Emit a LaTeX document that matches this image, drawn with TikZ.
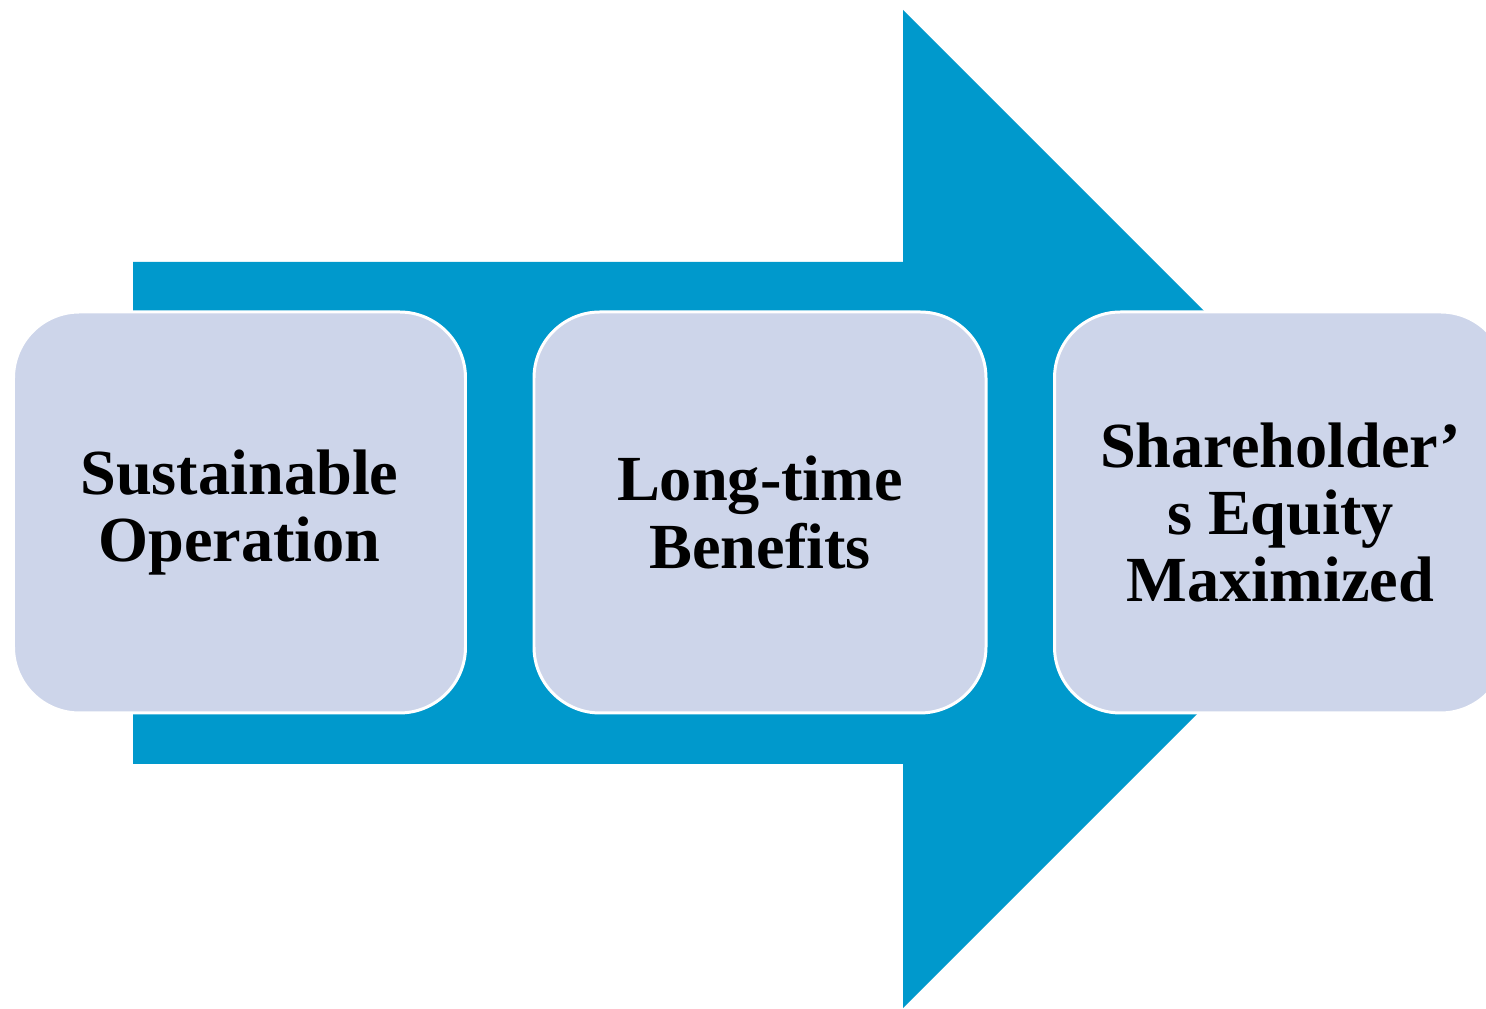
\documentclass[tikz,border=0pt]{standalone}
\usepackage{fontspec}
\setmainfont{Liberation Serif}
\usetikzlibrary{positioning}
\definecolor{arrowblue}{RGB}{0,153,204}
\definecolor{boxfill}{RGB}{205,213,234}
\tikzset{stepbox/.style={draw=white,line width=1.7pt,fill=boxfill,rounded corners=1.32cm,minimum width=9.04cm,minimum height=8.02cm,outer sep=0pt,align=center,font=\fontsize{36.6}{38.2}\selectfont\bfseries}}

\begin{document}
\begin{tikzpicture}
    \clip (0,0) rectangle (29.72,20.18);
    \fill[white] (0,0) rectangle (29.72,20.18);
    \fill[arrowblue] (2.66,4.90) -- (18.06,4.90) -- (18.06,0.02) -- (28.04,10.0) -- (18.06,19.98) -- (18.06,14.94) -- (2.66,14.94) -- cycle;
    \node[stepbox] (oper) at (4.79,9.93) {Sustainable\\Operation};
    \node[stepbox,right=1.37cm of oper] (bene) {Long-time\\Benefits};
    \node[stepbox,right=1.37cm of bene] (equity) {Shareholder’\\s Equity\\Maximized};
  \end{tikzpicture}
\end{document}
